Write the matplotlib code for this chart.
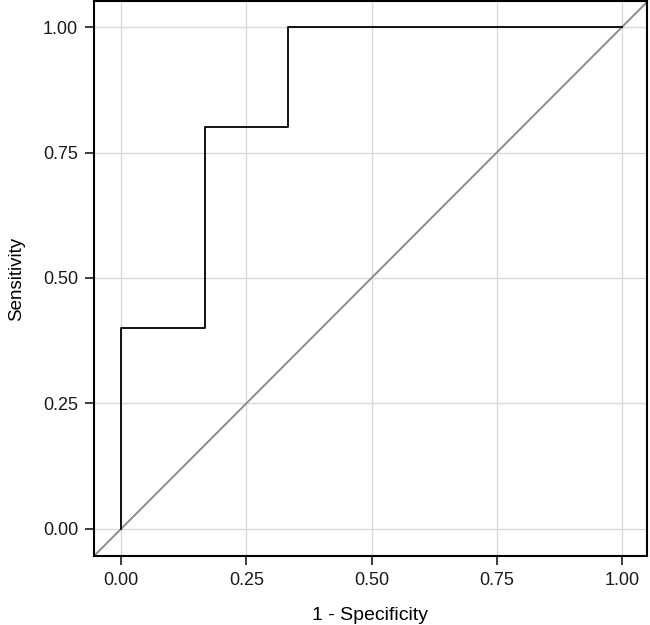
import matplotlib
matplotlib.use("Agg")
import matplotlib.pyplot as plt

# ROC curve points
fpr = [0.0, 0.0, 1/6, 1/6, 1/3, 1/3, 1.0]
tpr = [0.0, 0.4, 0.4, 0.8, 0.8, 1.0, 1.0]
ticks = [0.0, 0.25, 0.5, 0.75, 1.0]
tick_labels = ["0.00", "0.25", "0.50", "0.75", "1.00"]

plt.rcParams["font.family"] = ["Liberation Sans", "DejaVu Sans"]

fig = plt.figure(figsize=(6.5, 6.25), dpi=100)
ax = fig.add_axes([0.1446, 0.1104, 0.8508, 0.888])

ax.set_xlim(-0.054, 1.05)
ax.set_ylim(-0.054, 1.052)

ax.grid(True, color="#d9d9d9", linewidth=1.0)
ax.set_axisbelow(True)

# reference diagonal, runs corner to corner
ax.axline((0, 0), (1, 1), color="#8c8c8c", linewidth=1.4, zorder=2)
ax.plot(fpr, tpr, color="black", linewidth=1.3, zorder=3)

ax.set_xticks(ticks)
ax.set_xticklabels(tick_labels)
ax.set_yticks(ticks)
ax.set_yticklabels(tick_labels)
ax.tick_params(labelsize=13, length=6.5, width=1.2, pad=5, colors="#1a1a1a")

for sp in ax.spines.values():
    sp.set_linewidth(1.5)
    sp.set_color("black")

ax.set_xlabel("1 - Specificity", fontsize=14, labelpad=13)
ax.set_ylabel("Sensitivity", fontsize=13.5, labelpad=13)

fig.savefig("out.png", dpi=100)
